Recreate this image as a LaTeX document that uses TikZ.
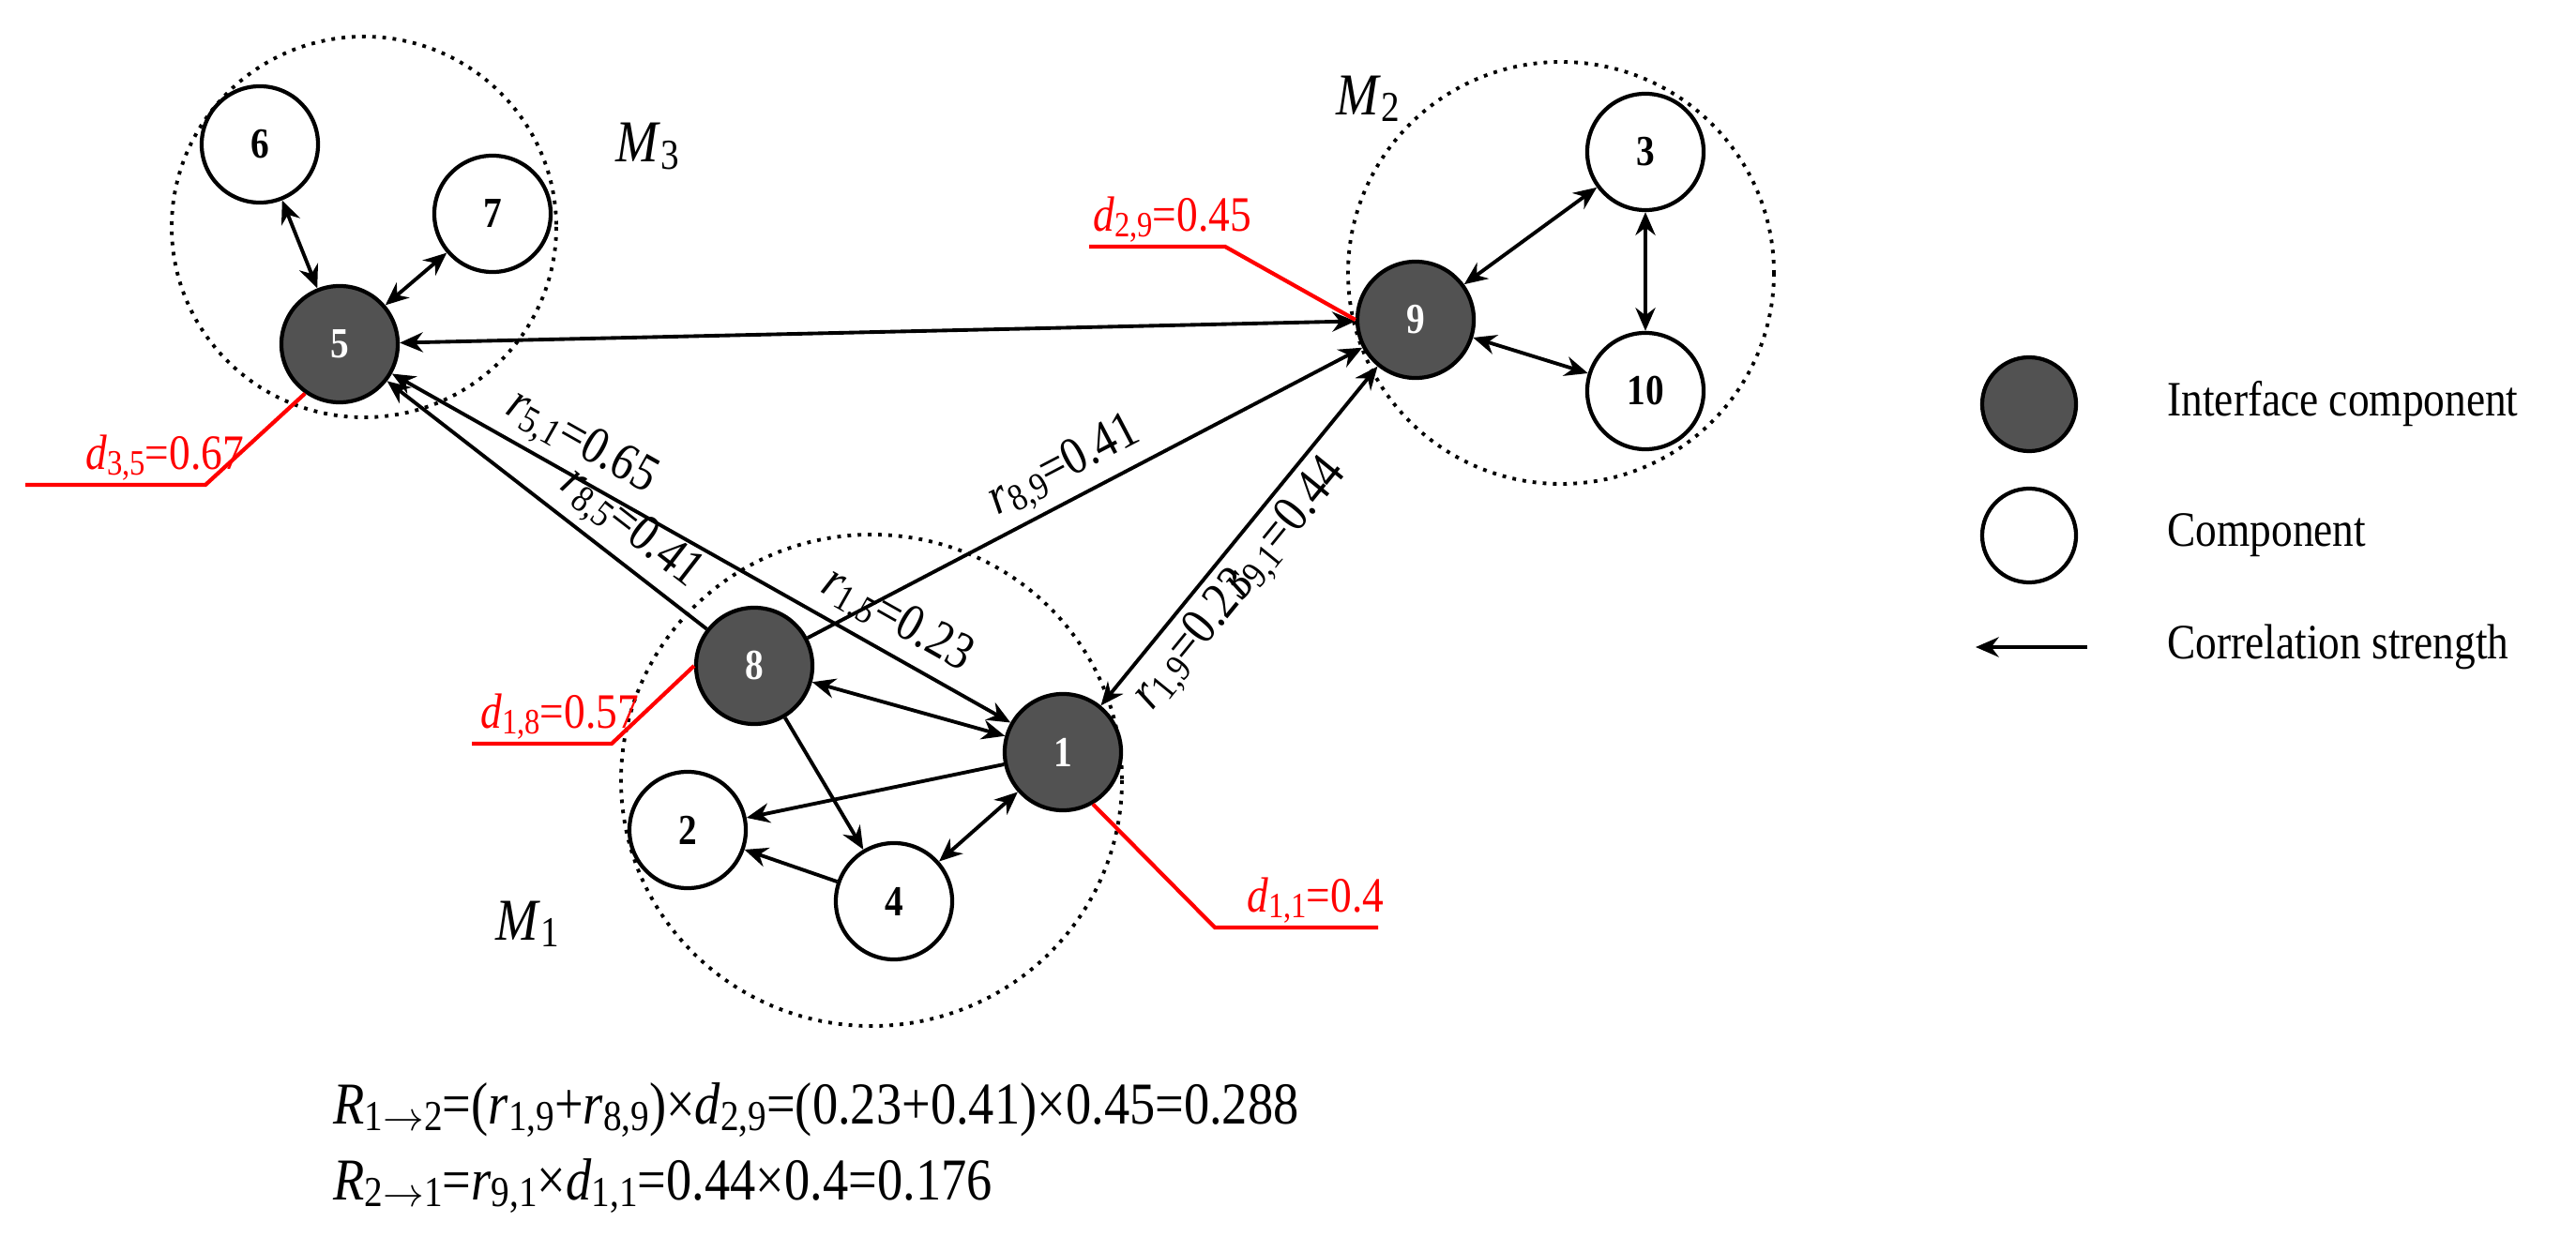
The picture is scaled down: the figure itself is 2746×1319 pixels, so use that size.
\documentclass[tikz,border=0pt]{standalone}
\usepackage{fontspec}
\setmainfont{Liberation Serif}[FakeStretch=0.86]
\usetikzlibrary{arrows.meta}
\newcommand\lo[1]{\raisebox{-.25ex}{\scalebox{0.72}{#1}}}
\begin{document}
\begin{tikzpicture}[x=0.01cm,y=-0.01cm,
  comp/.style={circle,draw,line width=1.2pt,minimum size=1.24cm,inner sep=0pt,font=\fontsize{13}{13}\selectfont\bfseries},
  iface/.style={comp,fill=black!68,text=white},
  arr/.style={line width=1.1pt,-{Stealth[length=7pt,width=6pt]}},
  barr/.style={line width=1.1pt,{Stealth[length=7pt,width=6pt]}-{Stealth[length=7pt,width=6pt]}},
  lab/.style={font=\fontsize{16}{16}\selectfont,sloped,above,inner sep=2pt},
  red/.style={draw=red,line width=1.2pt},
  rlab/.style={text=red,font=\fontsize{15}{15}\selectfont,inner sep=1pt,anchor=south west},
  mlab/.style={font=\fontsize{18}{18}\selectfont}]
\useasboundingbox (0,0) rectangle (2746,1319);
% modules
\draw[dotted,line width=1.1pt] (388,242) ellipse [x radius=205,y radius=203];
\draw[dotted,line width=1.1pt] (1664,291) ellipse [x radius=227,y radius=225];
\draw[dotted,line width=1.1pt] (929,832) ellipse [x radius=267,y radius=262];
\node[mlab] (m3) at (690,156) {\textit{M}\lo{3}};
\node[mlab] (m2) at (1458,105) {\textit{M}\lo{2}};
\node[mlab] (m1) at (562,985) {\textit{M}\lo{1}};
% nodes
\node[comp] (n6) at (277,154) {6};
\node[comp] (n7) at (525,228) {7};
\node[iface] (n5) at (362,367) {5};
\node[iface] (n9) at (1509,341) {9};
\node[comp] (n3) at (1754,162) {3};
\node[comp] (n10) at (1754,417) {10};
\node[iface] (n8) at (804,710) {8};
\node[iface] (n1) at (1133,802) {1};
\node[comp] (n2) at (733,885) {2};
\node[comp] (n4) at (953,961) {4};
% edges
\draw[barr] (n6) -- (n5);
\draw[barr] (n7) -- (n5);
\draw[barr] (n9) -- (n5);
\draw[barr] (n3) -- (n9);
\draw[barr] (n3) -- (n10);
\draw[barr] (n10) -- (n9);
\draw[barr] (n1) -- (n5) node[lab,pos=0.72]{\textit{r}\lo{5,1}=0.65} node[lab,pos=0.21]{\textit{r}\lo{1,5}=0.23};
\draw[arr] (n8) -- (n5) node[lab,pos=0.30]{\textit{r}\lo{8,5}=0.41};
\draw[arr] (n8) -- (n9) node[lab,pos=0.49]{\textit{r}\lo{8,9}=0.41};
\draw[barr] (n1) -- (n9) node[lab,below,pos=0.25]{\textit{r}\lo{1,9}=0.23} node[lab,below,pos=0.58]{\textit{r}\lo{9,1}=0.44};
\draw[barr] (n8) -- (n1);
\draw[arr] (n1) -- (n2);
\draw[arr] (n8) -- (n4);
\draw[arr] (n4) -- (n2);
\draw[barr] (n1) -- (n4);
% d labels
\coordinate (a35) at (27,517); \coordinate (b35) at (219,517);
\draw[red] (a35) -- (b35) -- (n5.235);
\node[rlab] (d35) at (a35) [xshift=0.6cm] {\textit{d}\lo{3,5}=0.67};
\coordinate (a29) at (1161,263); \coordinate (b29) at (1306,263);
\draw[red] (a29) -- (b29) -- (n9.180);
\node[rlab] (d29) at (a29) {\textit{d}\lo{2,9}=0.45};
\coordinate (a18) at (503,793); \coordinate (b18) at (652,793);
\draw[red] (a18) -- (b18) -- (n8.180);
\node[rlab] (d18) at (a18) [xshift=0.05cm] {\textit{d}\lo{1,8}=0.57};
\coordinate (a11) at (1295,989); \coordinate (b11) at (1469,989);
\draw[red] (n1.300) -- (a11) -- (b11);
\node[rlab] (d11) at (a11) [xshift=0.3cm] {\textit{d}\lo{1,1}=0.4};
% legend
\node[iface,minimum size=1.0cm] (li) at (2163,431) {};
\node[comp,minimum size=1.0cm] (lc) at (2163,571) {};
\coordinate (la) at (2225,690); \coordinate (lb) at (2106,690);
\draw[arr] (la) -- (lb);
\begin{scope}[every node/.style={anchor=west,font=\fontsize{15}{15}\selectfont}]
\node (t1) at (2298,431) {Interface component};
\node (t2) at (2298,571) {Component};
\node (t3) at (2298,690) {Correlation strength};
\end{scope}
% formulas
\begin{scope}[every node/.style={anchor=base west,font=\fontsize{18}{18}\selectfont,inner sep=0pt}]
\node (f1) at (355,1198) {\textit{R}\lo{1$\rightarrow$2}=(\textit{r}\lo{1,9}+\textit{r}\lo{8,9})×\textit{d}\lo{2,9}=(0.23+0.41)×0.45=0.288};
\node (f2) at (355,1279) {\textit{R}\lo{2$\rightarrow$1}=\textit{r}\lo{9,1}×\textit{d}\lo{1,1}=0.44×0.4=0.176};
\end{scope}
\end{tikzpicture}
\end{document}
